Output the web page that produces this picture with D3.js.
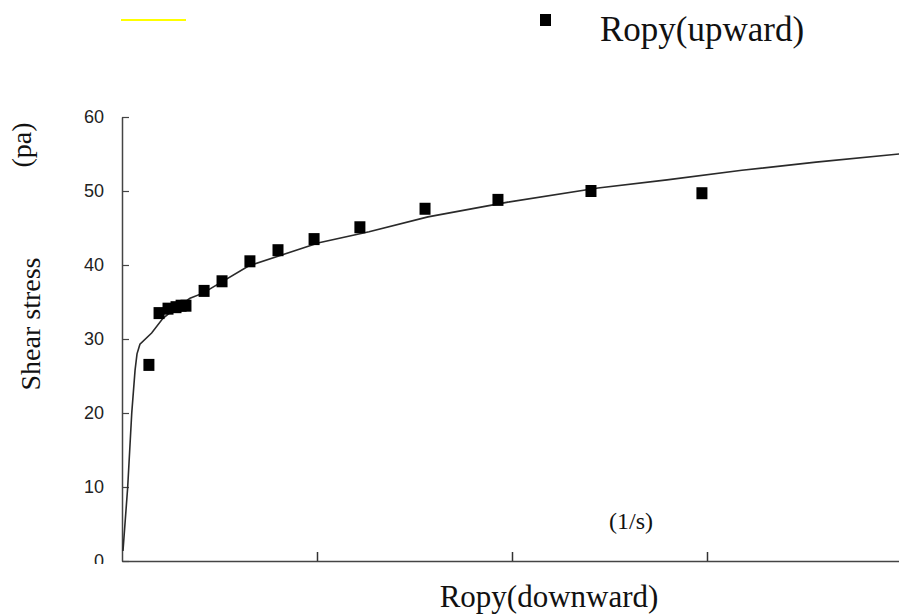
<!DOCTYPE html>
<meta charset="utf-8">
<style>
body { margin: 0; padding: 0; background: #fff; }
svg { display: block; }
.serif { font-family: "Liberation Serif", "Times New Roman", serif; fill: #111; }
</style>
<body>
<div id="chart"></div>
<script src="https://cdn.jsdelivr.net/npm/d3@7"></script>
<script>
// measured points (shear rate, shear stress)
var rate   = [13.8, 19.0, 23.6, 27.7, 30.3, 32.8, 42.1, 51.3, 65.6, 80.0, 98.5, 122, 155.4, 192.8, 240.5, 297.4];
var stress = [26.5, 33.5, 34.1, 34.3, 34.5, 34.5, 36.5, 37.8, 40.5, 42.0, 43.5, 45.1, 47.6, 48.8, 50.0, 49.7];

// fitted curve
var fitRate   = [0.5, 2.9, 5.0, 6.7, 7.7, 9.2, 15.2, 21.0, 28.2, 34.9, 41.5, 65.1, 101.0, 126.7, 156.9, 197.9, 244.1, 279.5, 317.9, 355.9, 398.5];
var fitStress = [1.35, 9.9, 20.0, 25.8, 28.0, 29.3, 30.8, 32.8, 34.3, 35.5, 36.2, 39.9, 43.0, 44.5, 46.5, 48.5, 50.4, 51.5, 52.8, 53.9, 55.0];

var yTicks = [0, 10, 20, 30, 40, 50, 60];
var xTicks = [100, 200, 300];

var width = 899, height = 615;

var svg = d3.select("#chart").append("svg")
	.attr("width", width)
	.attr("height", height);

var x = d3.scaleLinear().domain([0, 400]).range([122, 902]);
var y = d3.scaleLinear().domain([0, 60]).range([561, 117]);

// y axis, ticks pointing inward
var yAxis = svg.append("g")
	.attr("transform", "translate(" + x(0) + ",0)")
	.call(d3.axisLeft(y).tickValues(yTicks).tickSizeInner(-7).tickSizeOuter(0).tickPadding(18));
yAxis.attr("font-size", 18).attr("font-family", "Liberation Sans, Arial, sans-serif");
yAxis.selectAll(".tick text").attr("fill", "#222");
yAxis.select(".domain").attr("stroke", "#444").attr("stroke-width", 1.5);
yAxis.selectAll(".tick line").attr("stroke", "#444").attr("stroke-width", 1.2);

// x axis, ticks pointing up, no labels
var xAxis = svg.append("g")
	.attr("transform", "translate(0," + y(0) + ")")
	.call(d3.axisBottom(x).tickValues(xTicks).tickSizeInner(-9).tickSizeOuter(0).tickFormat(""));
xAxis.select(".domain").attr("stroke", "#444").attr("stroke-width", 1.5);
xAxis.selectAll(".tick line").attr("stroke", "#333").attr("stroke-width", 1.5);

// the "0" label is cut off in the original
svg.append("rect")
	.attr("x", 80).attr("y", y(0) + 3)
	.attr("width", 40).attr("height", 20)
	.attr("fill", "#fff");

// fitted curve
var line = d3.line()
	.x(function (d, i) { return x(fitRate[i]); })
	.y(function (d, i) { return y(fitStress[i]); });

svg.append("path")
	.datum(fitRate)
	.attr("d", line)
	.attr("fill", "none")
	.attr("stroke", "#2a2a2a")
	.attr("stroke-width", 1.6);

// data squares
svg.selectAll("rect.pt")
	.data(rate)
	.enter().append("rect")
	.attr("class", "pt")
	.attr("x", function (d) { return x(d) - 5.5; })
	.attr("y", function (d, i) { return y(stress[i]) - 6; })
	.attr("width", 11)
	.attr("height", 12)
	.attr("fill", "#000");

// legend
svg.append("line")
	.attr("x1", 121).attr("x2", 186)
	.attr("y1", 20).attr("y2", 20)
	.attr("stroke", "#ffff00")
	.attr("stroke-width", 2);

svg.append("rect")
	.attr("x", 540).attr("y", 14)
	.attr("width", 11).attr("height", 12)
	.attr("fill", "#000");

svg.append("text")
	.attr("class", "serif")
	.attr("x", 600).attr("y", 41)
	.style("font-size", "35px")
	.text("Ropy(upward)");

// axis titles
svg.append("text")
	.attr("class", "serif")
	.attr("x", 549).attr("y", 607)
	.attr("text-anchor", "middle")
	.style("font-size", "31px")
	.text("Ropy(downward)");

svg.append("text")
	.attr("class", "serif")
	.attr("x", 631).attr("y", 529)
	.attr("text-anchor", "middle")
	.style("font-size", "24px")
	.text("(1/s)");

svg.append("text")
	.attr("class", "serif")
	.attr("transform", "translate(40,324) rotate(-90)")
	.attr("text-anchor", "middle")
	.style("font-size", "28px")
	.text("Shear stress");

svg.append("text")
	.attr("class", "serif")
	.attr("transform", "translate(31,145) rotate(-90)")
	.attr("text-anchor", "middle")
	.style("font-size", "28px")
	.text("(pa)");
</script>
</body>
